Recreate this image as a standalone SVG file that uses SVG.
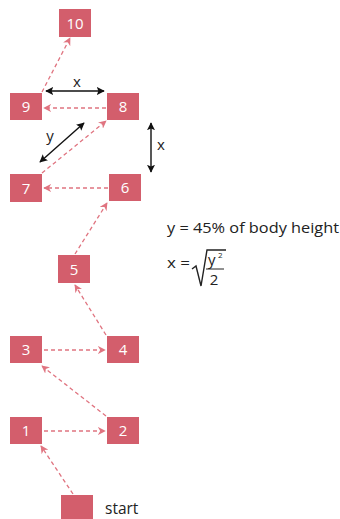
<svg xmlns="http://www.w3.org/2000/svg" width="340" height="519" viewBox="0 0 340 519">
<style>
.box{fill:#d35e6c}
.lbl{font-family:"Open Sans","Liberation Sans",sans-serif;font-size:15px;fill:#ffffff;text-anchor:middle}
.dash{stroke:#e07480;stroke-width:1.3;stroke-dasharray:4 3;fill:none;marker-end:url(#pa)}
.dim{stroke:#111;stroke-width:1.4;fill:none;marker-start:url(#ba);marker-end:url(#ba)}
.txt{font-family:"Open Sans","Liberation Sans",sans-serif;font-size:15px;fill:#222}
</style>
<defs>
<marker id="pa" viewBox="0 0 10 10" refX="9" refY="5" markerWidth="8" markerHeight="8" markerUnits="userSpaceOnUse" orient="auto"><path d="M0,0 L10,5 L0,10 L3,5 Z" fill="#e07480"/></marker>
<marker id="ba" viewBox="0 0 10 10" refX="9" refY="5" markerWidth="8" markerHeight="8" markerUnits="userSpaceOnUse" orient="auto-start-reverse"><path d="M0,0 L10,5 L0,10 L2,5 Z" fill="#111"/></marker>
</defs>
<g id="connectors">
<line class="dash" x1="42" y1="92" x2="70" y2="38"/>
<line class="dash" x1="106" y1="108" x2="44" y2="108"/>
<line class="dash" x1="42" y1="173" x2="106" y2="121"/>
<line class="dash" x1="108" y1="188" x2="44" y2="188"/>
<line class="dash" x1="75" y1="254" x2="107" y2="203"/>
<line class="dash" x1="106" y1="335" x2="75" y2="285"/>
<line class="dash" x1="44" y1="350" x2="105" y2="350"/>
<line class="dash" x1="106" y1="416" x2="42" y2="366"/>
<line class="dash" x1="44" y1="431" x2="105" y2="431"/>
<line class="dash" x1="73" y1="494" x2="41" y2="446"/>
</g>
<g id="dimensions">
<line class="dim" x1="46" y1="91" x2="104" y2="91"/>
<text class="txt" x="77" y="87" text-anchor="middle">x</text>
<line class="dim" x1="40" y1="162" x2="84" y2="123"/>
<text class="txt" x="50" y="141" text-anchor="middle">y</text>
<line class="dim" x1="151" y1="123" x2="151" y2="172"/>
<text class="txt" x="161" y="150" text-anchor="middle">x</text>
</g>
<g id="n10"><rect class="box" x="59" y="9" width="32" height="28"/><text class="lbl" x="75" y="28.5">10</text></g>
<g id="n9"><rect class="box" x="10" y="93" width="32" height="27"/><text class="lbl" x="26" y="112">9</text></g>
<g id="n8"><rect class="box" x="107" y="93" width="32" height="27"/><text class="lbl" x="123" y="112">8</text></g>
<g id="n7"><rect class="box" x="10" y="174" width="32" height="28"/><text class="lbl" x="26" y="193.5">7</text></g>
<g id="n6"><rect class="box" x="109" y="174" width="32" height="27"/><text class="lbl" x="125" y="193">6</text></g>
<g id="n5"><rect class="box" x="58" y="255" width="32" height="28"/><text class="lbl" x="74" y="274.5">5</text></g>
<g id="n3"><rect class="box" x="10" y="336" width="32" height="27"/><text class="lbl" x="26" y="355">3</text></g>
<g id="n4"><rect class="box" x="107" y="336" width="32" height="27"/><text class="lbl" x="123" y="355">4</text></g>
<g id="n1"><rect class="box" x="10" y="417" width="32" height="27"/><text class="lbl" x="26" y="436">1</text></g>
<g id="n2"><rect class="box" x="107" y="417" width="32" height="27"/><text class="lbl" x="123" y="436">2</text></g>
<g id="nstart"><rect class="box" x="61" y="495" width="32" height="24"/><text class="txt" x="105" y="514" style="font-size:15.5px">start</text></g>
<g id="formula">
<text class="txt" x="167" y="233" textLength="172" lengthAdjust="spacingAndGlyphs">y = 45% of body height</text>
<text class="txt" x="167" y="268" textLength="23" lengthAdjust="spacingAndGlyphs">x =</text>
<path d="M192,269 L196,266 L201,286 L207,250 L226,250" fill="none" stroke="#222" stroke-width="1.4"/>
<text class="txt" x="208" y="265">y</text>
<text class="txt" x="218" y="258" style="font-size:8px">2</text>
<line x1="206" y1="269" x2="224" y2="269" stroke="#222" stroke-width="1"/>
<text class="txt" x="214" y="285" text-anchor="middle">2</text>
</g>
</svg>
